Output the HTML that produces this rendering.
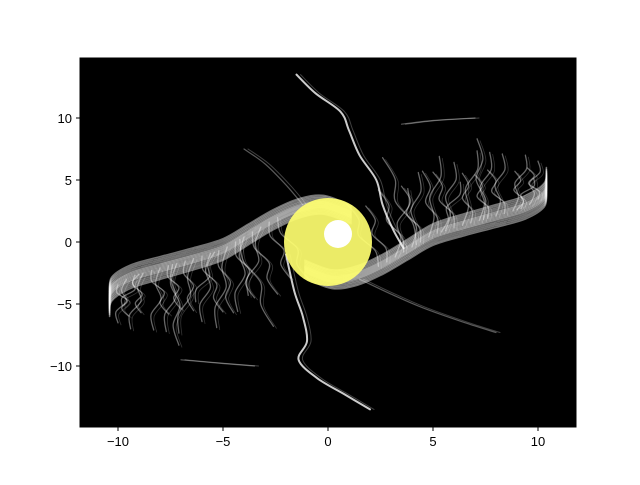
<!DOCTYPE html>
<html><head><meta charset="utf-8"><style>
body{margin:0;background:#fff;font-family:"Liberation Sans",sans-serif}
svg text{font-family:"Liberation Sans",sans-serif;font-size:13px;fill:#000}
</style></head><body>
<svg id="chart" width="640" height="480" xmlns="http://www.w3.org/2000/svg">
<rect x="80" y="58" width="496" height="369" fill="#000"/>
<g id="marks"></g>
<rect x="80" y="58" width="496" height="369" fill="none" stroke="#000" stroke-width="1"/>
<g id="axes"></g>
</svg>
<script>
const xTicks=[-10,-5,0,5,10];
const yTicks=[-10,-5,0,5,10];
// right arm spine (data coords); left arm is point reflection
const armX=[10.4,10.3,9.4,8,6.5,5,3.8,2.6,1.4,0.2,-1.1];
const armY=[5,3.8,2.8,2.1,1.4,0.6,-0.6,-1.8,-2.7,-3,-2.2];
const strandOff=[-1,-0.85,-0.7,-0.55,-0.4,-0.3,-0.2,-0.1,0,0.1,0.2,0.3,0.4,0.55,0.7,0.85,1];
// tendrils from right arm rising upward (left arm mirrored)
const tendX=[10,9.6,9.2,8.8,8.4,8,7.6,7.2,6.8,6.4,6,5.6,5.2,4.8,4.4,4,3.6,3.2,2.8,2.4,9,7.4,5.4,4.2];
const tendDX=[-0.5,0.4,-0.3,0.6,-0.8,0.3,-0.6,0.5,-0.4,0.7,-1,0.4,-0.7,0.5,-0.9,0.3,-1.2,0.6,-1,-1.5,0.8,-0.3,0.9,-1.6];
const tendDY=[2.5,3.5,3,4.5,3.5,5,3.5,5.5,4,6,4.5,5.5,5,6.5,4.5,6,5,5.5,4.5,5,2.5,6.5,4,7];
// long filaments
const filX=[[-1.5,-0.6,0.6,1,1.5,2.3,2.6,3.1,3.6],[-2,-1.6,-1.2,-1,-1.4,-0.5,0.8,2],[-4,-3,-2,-1.2],[1.5,3,4.5,6.5,8],[-7,-5,-3.5],[3.5,5,7]];
const filY=[[13.5,12,10.5,9,7,5,3,1,-0.5],[-1,-4,-6,-8,-9.5,-11,-12.3,-13.5],[7.5,6.3,4.6,3],[-3,-4.2,-5.3,-6.5,-7.3],[-9.5,-9.8,-10],[9.5,9.8,10]];
const sunX=[0];const sunY=[0];
const X=v=>328+v*21, Y=v=>242-v*12.4;
const NS='http://www.w3.org/2000/svg';
const marks=document.getElementById('marks'), axes=document.getElementById('axes');
function smooth(pts){let d='M'+pts[0][0]+','+pts[0][1];for(let i=0;i<pts.length-1;i++){const p0=pts[i-1]||pts[i],p1=pts[i],p2=pts[i+1],p3=pts[i+2]||p2;
d+=' C'+(p1[0]+(p2[0]-p0[0])/6)+','+(p1[1]+(p2[1]-p0[1])/6)+' '+(p2[0]-(p3[0]-p1[0])/6)+','+(p2[1]-(p3[1]-p1[1])/6)+' '+p2[0]+','+p2[1];}return d;}
function path(d,w,o,name){const p=document.createElementNS(NS,'path');p.setAttribute('d',d);p.setAttribute('fill','none');p.setAttribute('stroke','#fff');p.setAttribute('stroke-width',w);p.setAttribute('stroke-opacity',o);p.setAttribute('stroke-linecap','round');


marks.appendChild(p);}
[1,-1].forEach(s=>{
 tendX.forEach((tx,i)=>{let k=0;while(k<armX.length-2&&armX[k+1]>tx)k++;const t=(armX[k]-tx)/(armX[k]-armX[k+1]);const ty=armY[k]+t*(armY[k+1]-armY[k]);
 const dx=tendDX[i],dy=tendDY[i];
 const pts=[[tx,ty],[tx+dx*0.2+0.15,ty+dy*0.25],[tx+dx*0.5-0.2,ty+dy*0.5],[tx+dx*0.75+0.2,ty+dy*0.75],[tx+dx,ty+dy]].map(p=>[X(s*p[0]),Y(s*p[1])]);
 path(smooth(pts),1.3,0.4,'tendril');
 path(smooth(pts.map(p=>[p[0]+3,p[1]+2])),0.8,0.2,'tendril');});
 strandOff.forEach(o=>{const pts=armX.map((x,i)=>[X(s*x),Y(s*(armY[i]+o*(1-0.3*i/armX.length)))]);path(smooth(pts),1.6,0.45,'arm-strand');});
});
filX.forEach((fx,j)=>{const pts=fx.map((x,i)=>[X(x),Y(filY[j][i])]);const main=j<2;path(smooth(pts),main?2:1.2,main?0.8:0.35,'filament');path(smooth(pts.map(p=>[p[0]+4,p[1]])),1,0.25,'filament');});
const sun=document.createElementNS(NS,'circle');sun.setAttribute('cx',X(sunX[0]));sun.setAttribute('cy',Y(sunY[0]));sun.setAttribute('r',44);sun.setAttribute('fill','#ffff70');sun.setAttribute('fill-opacity','0.92');


marks.appendChild(sun);
const moon=document.createElementNS(NS,'circle');moon.setAttribute('cx',X(sunX[0])+10);moon.setAttribute('cy',Y(sunY[0])-8);moon.setAttribute('r',14);moon.setAttribute('fill','#fff');


marks.appendChild(moon);
xTicks.forEach(v=>{const l=document.createElementNS(NS,'line');l.setAttribute('x1',X(v));l.setAttribute('x2',X(v));l.setAttribute('y1',427);l.setAttribute('y2',431);l.setAttribute('stroke','#000');


axes.appendChild(l);
const t=document.createElementNS(NS,'text');t.setAttribute('x',X(v));t.setAttribute('y',446);t.setAttribute('text-anchor','middle');t.textContent=v<0?'\u2212'+(-v):v;


axes.appendChild(t);});
yTicks.forEach(v=>{const l=document.createElementNS(NS,'line');l.setAttribute('x1',76);l.setAttribute('x2',80);l.setAttribute('y1',Y(v));l.setAttribute('y2',Y(v));l.setAttribute('stroke','#000');


axes.appendChild(l);
const t=document.createElementNS(NS,'text');t.setAttribute('x',72);t.setAttribute('y',Y(v)+5);t.setAttribute('text-anchor','end');t.textContent=v<0?'\u2212'+(-v):v;


axes.appendChild(t);});
</script>
</body></html>
